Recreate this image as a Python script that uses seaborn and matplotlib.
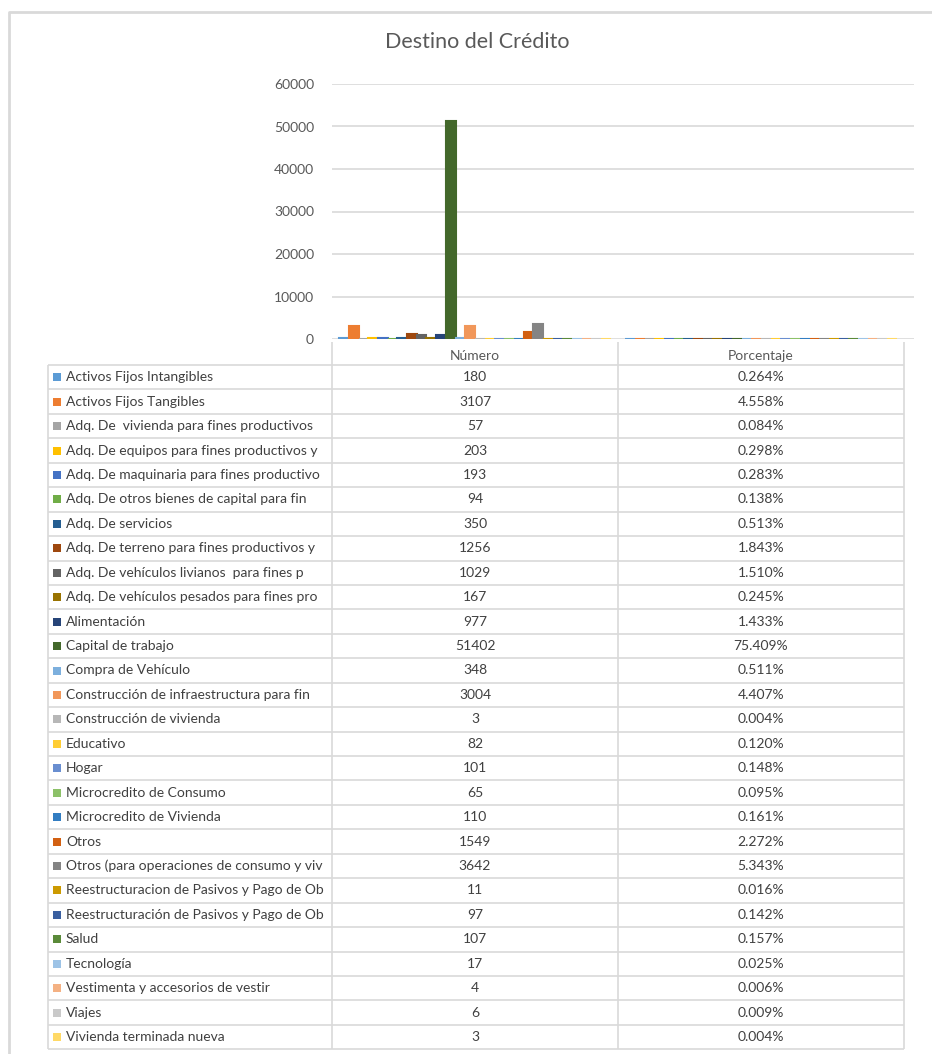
import pandas as pd
import matplotlib.pyplot as plt
import seaborn as sns
from matplotlib.patches import Rectangle

# Data
series = [
    'Activos Fijos Intangibles', 'Activos Fijos Tangibles',
    'Adq. De  vivienda para fines productivos', 'Adq. De equipos para fines productivos y',
    'Adq. De maquinaria para fines productivo', 'Adq. De otros bienes de capital para fin',
    'Adq. De servicios', 'Adq. De terreno para fines productivos y',
    'Adq. De vehículos livianos  para fines p', 'Adq. De vehículos pesados para fines pro',
    'Alimentación', 'Capital de trabajo', 'Compra de Vehículo',
    'Construcción de infraestructura para fin', 'Construcción de vivienda', 'Educativo',
    'Hogar', 'Microcredito de Consumo', 'Microcredito de Vivienda', 'Otros',
    'Otros (para operaciones de consumo y viv', 'Reestructuracion de Pasivos y Pago de Ob',
    'Reestructuración de Pasivos y Pago de Ob', 'Salud', 'Tecnología',
    'Vestimenta y accesorios de vestir', 'Viajes', 'Vivienda terminada nueva',
]
numero = [180, 3107, 57, 203, 193, 94, 350, 1256, 1029, 167, 977, 51402, 348, 3004,
          3, 82, 101, 65, 110, 1549, 3642, 11, 97, 107, 17, 4, 6, 3]
porcentaje = [0.264, 4.558, 0.084, 0.298, 0.283, 0.138, 0.513, 1.843, 1.510, 0.245,
              1.433, 75.409, 0.511, 4.407, 0.004, 0.120, 0.148, 0.095, 0.161, 2.272,
              5.343, 0.016, 0.142, 0.157, 0.025, 0.006, 0.009, 0.004]
categories = ['Número', 'Porcentaje']
colors = [
    '#5B9BD5', '#ED7D31', '#A5A5A5', '#FFC000', '#4472C4', '#70AD47',
    '#255E91', '#9E480E', '#636363', '#997300', '#264478', '#43682B',
    '#7CAFDD', '#F1975A', '#B7B7B7', '#FFCD33', '#698ED0', '#8CC168',
    '#327DC2', '#D26012', '#848484', '#CC9A00', '#3A5FA0', '#5A8A39',
    '#9DC3E6', '#F4B183', '#C9C9C9', '#FFD966',
]

df = pd.DataFrame({
    'serie': series * 2,
    'categoria': [categories[0]] * len(series) + [categories[1]] * len(series),
    'valor': numero + [p / 100 for p in porcentaje],
})

W, H = 932, 1054
sns.set_theme(style='white')
plt.rcParams['font.family'] = ['Lato', 'DejaVu Sans']
text_col = '#595959'
line_col = '#D9D9D9'

fig = plt.figure(figsize=(W / 100, H / 100), dpi=100)

# chart area (pixel geometry converted to figure fractions)
x0, x1 = 332, 914
y_top, y_bot = 84, 339
ax = fig.add_axes([x0 / W, 1 - y_bot / H, (x1 - x0) / W, (y_bot - y_top) / H])
sns.barplot(data=df, x='categoria', y='valor', hue='serie', palette=colors,
            width=0.95, saturation=1, legend=False, ax=ax, linewidth=0)
# give each bar an outline in its own colour so flat bars still show
for bar in ax.patches:
    bar.set_edgecolor(bar.get_facecolor())
    bar.set_linewidth(1.5)
ax.set_xlim(-0.5, -0.5 + (x1 - x0) / 286)
ax.set_ylim(0, 60000)
ax.set_yticks(range(0, 60001, 10000))
ax.yaxis.grid(True, color=line_col, linewidth=1.2)
ax.set_axisbelow(True)
for s in ax.spines.values():
    s.set_visible(False)
ax.tick_params(axis='y', length=0, pad=13, labelsize=10, labelcolor=text_col)
ax.tick_params(axis='x', length=0, pad=8, labelsize=10, labelcolor=text_col)
ax.set_xlabel('')
ax.set_ylabel('')

fig.text(477 / W, 1 - 42 / H, 'Destino del Crédito', ha='center', va='center',
         fontsize=15.5, color=text_col)

# data table drawn in pixel coordinates
tab = fig.add_axes([0, 0, 1, 1], zorder=-1)
tab.set_xlim(0, W)
tab.set_ylim(H, 0)
tab.axis('off')

# outer chart border
tab.plot([9, 9, W], [H, 12, 12], color=line_col, lw=2, solid_capstyle='butt')

row_h = 24.44
top = 365
bottom = top + row_h * len(series)
cols = [48, 332, 618, 904]
tab.vlines(cols[0], top, bottom, color=line_col, lw=1.2)
tab.vlines(cols[1:], 342, bottom, color=line_col, lw=1.2)
tab.hlines(top + row_h * pd.RangeIndex(len(series) + 1), cols[0], cols[-1],
           color=line_col, lw=1.2)

for i, (name, n, p, c) in enumerate(zip(series, numero, porcentaje, colors)):
    yc = top + row_h * (i + 0.5)
    tab.add_patch(Rectangle((53, yc - 4), 8, 8, color=c, lw=0))
    tab.text(66, yc, name, ha='left', va='center', fontsize=10, color='#404040')
    tab.text(475, yc, str(n), ha='center', va='center', fontsize=10, color='#404040')
    tab.text(761, yc, f'{p:.3f}%', ha='center', va='center', fontsize=10, color='#404040')

fig.savefig('out.png', dpi=100)
